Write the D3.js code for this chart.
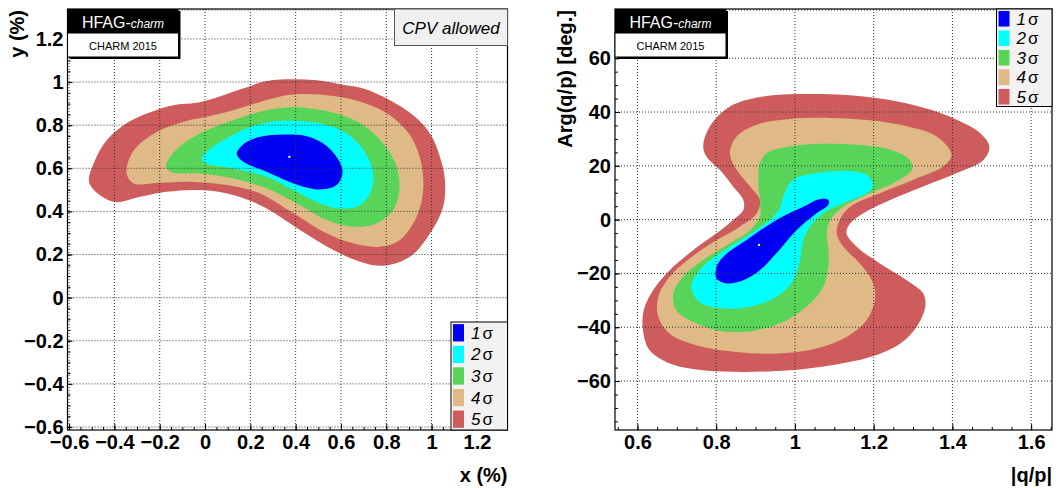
<!DOCTYPE html>
<html>
<head>
<meta charset="utf-8">
<script src="https://cdn.jsdelivr.net/npm/d3@7"></script>
<style>
  body { margin: 0; background: #fff; }
  svg { display: block; font-family: "Liberation Sans", Arial, Helvetica, sans-serif; }
  .tick text { font-weight: bold; font-size: 20px; fill: #000; }
  .domain { display: none; }
</style>
</head>
<body>
<svg width="1063" height="488"></svg>
<script>
// confidence regions, outermost last
var sigmaLabels = ['1', '2', '3', '4', '5'];

// x (%), y (%)
var xy1 = [[0.14,0.666],[0.169,0.63],[0.272,0.584],[0.39,0.53],[0.507,0.502],[0.581,0.522],[0.607,0.584],
  [0.581,0.653],[0.522,0.715],[0.449,0.749],[0.346,0.757],[0.243,0.746],[0.169,0.712]];
var xy2 = [[-0.015,0.646],[0.007,0.622],[0.125,0.599],[0.272,0.561],[0.39,0.499],[0.507,0.437],[0.596,0.414],
  [0.684,0.429],[0.735,0.499],[0.74,0.592],[0.699,0.684],[0.625,0.761],[0.522,0.805],[0.404,0.82],
  [0.287,0.815],[0.184,0.785],[0.081,0.73],[0.007,0.676]];
var xy3 = [[-0.172,0.615],[-0.154,0.584],[-0.022,0.576],[0.125,0.553],[0.272,0.507],[0.419,0.429],[0.537,0.36],
  [0.654,0.329],[0.757,0.344],[0.831,0.406],[0.857,0.499],[0.846,0.607],[0.787,0.715],[0.699,0.8],
  [0.581,0.854],[0.463,0.877],[0.36,0.882],[0.243,0.862],[0.125,0.823],[0.007,0.777],[-0.096,0.715],[-0.154,0.653]];
var xy4 = [[-0.346,0.576],[-0.316,0.53],[-0.199,0.533],[-0.051,0.537],[0.096,0.522],[0.243,0.483],[0.39,0.391],
  [0.522,0.306],[0.654,0.252],[0.772,0.236],[0.86,0.267],[0.934,0.375],[0.963,0.499],[0.951,0.638],
  [0.904,0.754],[0.816,0.846],[0.713,0.9],[0.596,0.931],[0.478,0.944],[0.36,0.939],[0.243,0.908],
  [0.125,0.869],[0.007,0.839],[-0.081,0.82],[-0.199,0.777],[-0.287,0.715],[-0.331,0.653]];
var xy5 = [[-0.51,0.53],[-0.404,0.445],[-0.287,0.468],[-0.169,0.491],[-0.022,0.499],[0.125,0.476],[0.272,0.414],
  [0.419,0.314],[0.566,0.221],[0.684,0.167],[0.787,0.148],[0.904,0.19],[0.993,0.298],[1.051,0.422],
  [1.059,0.545],[1.037,0.653],[0.993,0.761],[0.919,0.846],[0.816,0.916],[0.699,0.97],[0.596,0.99],
  [0.493,1.008],[0.39,1.013],[0.272,1.005],[0.154,0.965],[0.037,0.924],[-0.037,0.904],[-0.14,0.893],
  [-0.257,0.854],[-0.36,0.8],[-0.434,0.73],[-0.485,0.638]];
var xyBest = [0.372, 0.653];

// |q/p|, Arg(q/p) in degrees
var qp1 = [[0.801,-17.5],[0.818,-13.8],[0.877,-7.6],[0.953,-0.1],[1.021,4.8],[1.064,7.7],[1.085,7.3],[1.085,5.5],
  [1.055,2.4],[1.004,-3.9],[0.953,-12.5],[0.911,-18.8],[0.869,-22.5],[0.826,-23.7],[0.801,-21.9]];
var qp2 = [[0.97,8.6],[0.996,14.8],[1.064,17.5],[1.14,18.1],[1.182,16.6],[1.199,12.9],[1.182,9.8],[1.123,6.1],
  [1.072,2.4],[1.038,-2.6],[1.021,-7.6],[1.013,-15.0],[0.996,-22.5],[0.953,-28.7],[0.886,-32.4],
  [0.818,-33.0],[0.758,-30.6],[0.737,-25.0],[0.758,-18.8],[0.809,-12.5],[0.877,-6.3],[0.936,-0.1],[0.962,4.2]];
var qp3 = [[0.911,21.0],[0.928,24.7],[0.987,27.2],[1.072,28.2],[1.157,27.8],[1.242,26.0],[1.292,22.2],[1.297,18.5],
  [1.258,14.2],[1.191,9.8],[1.123,4.8],[1.089,-0.1],[1.081,-5.1],[1.085,-11.3],[1.085,-17.5],[1.072,-25.0],
  [1.038,-31.2],[0.979,-37.4],[0.903,-41.1],[0.826,-41.7],[0.75,-38.6],[0.699,-33.7],[0.691,-27.5],
  [0.716,-21.2],[0.767,-15.0],[0.835,-8.8],[0.886,-3.9],[0.911,1.1],[0.911,7.3],[0.907,13.5]];
var qp4 = [[0.835,24.7],[0.852,30.9],[0.903,35.3],[0.987,37.4],[1.089,37.8],[1.191,36.9],[1.284,34.7],[1.36,30.9],
  [1.398,24.1],[1.377,19.8],[1.301,14.8],[1.216,9.8],[1.14,4.8],[1.114,-0.1],[1.106,-5.1],[1.123,-10.1],
  [1.165,-16.3],[1.199,-23.7],[1.203,-29.9],[1.182,-37.4],[1.131,-43.6],[1.055,-47.9],[0.953,-49.8],
  [0.852,-49.2],[0.75,-46.7],[0.682,-42.4],[0.653,-36.1],[0.653,-28.7],[0.682,-21.2],[0.733,-14.4],
  [0.801,-7.6],[0.86,-2.6],[0.903,2.4],[0.911,7.3],[0.886,12.3],[0.852,18.5]];
var qp5 = [[0.767,27.2],[0.784,34.7],[0.835,42.1],[0.919,45.8],[1.064,46.7],[1.174,45.8],[1.258,44.0],[1.343,40.9],
  [1.411,37.1],[1.47,32.2],[1.494,27.2],[1.479,22.2],[1.411,17.3],[1.326,12.3],[1.242,7.3],[1.174,2.4],
  [1.14,-1.4],[1.131,-5.1],[1.157,-10.1],[1.216,-16.3],[1.284,-22.5],[1.326,-27.5],[1.331,-32.4],
  [1.309,-39.9],[1.267,-46.1],[1.191,-51.1],[1.089,-54.2],[0.987,-56.0],[0.869,-56.6],[0.767,-56.0],
  [0.682,-53.5],[0.631,-48.6],[0.614,-41.1],[0.616,-33.7],[0.64,-26.2],[0.682,-18.8],[0.742,-11.3],
  [0.801,-5.1],[0.843,-0.1],[0.869,3.6],[0.869,7.3],[0.843,12.3],[0.809,18.5],[0.775,23.5]];
var qpBest = [0.909, -9.4];

var xyTicksX = [-0.6, -0.4, -0.2, 0, 0.2, 0.4, 0.6, 0.8, 1, 1.2];
var xyTicksY = [-0.6, -0.4, -0.2, 0, 0.2, 0.4, 0.6, 0.8, 1, 1.2];
var qpTicksX = [0.6, 0.8, 1, 1.2, 1.4, 1.6];
var qpTicksY = [-60, -40, -20, 0, 20, 40, 60];

var colors = ['#0000f2', '#00ffff', '#58d558', '#dfb986', '#cf5c5c'];

var svg = d3.select('svg');

function fmt(d) {
  return d3.format('~g')(d).replace('-', '\u2212');
}

function drawPanel(p) {
  var x = d3.scaleLinear().domain(p.xDomain).range([p.left, p.right]);
  var y = d3.scaleLinear().domain(p.yDomain).range([p.bottom, p.top]);
  var g = svg.append('g');

  var line = d3.line()
    .x(function(d) { return x(d[0]); })
    .y(function(d) { return y(d[1]); })
    .curve(d3.curveCatmullRomClosed.alpha(0.5));

  // outermost first so inner ones sit on top
  for (var i = p.contours.length - 1; i >= 0; i--) {
    g.append('path')
      .attr('d', line(p.contours[i]))
      .attr('fill', colors[i]);
  }

  g.append('rect')
    .attr('x', x(p.best[0]) - 1).attr('y', y(p.best[1]) - 1)
    .attr('width', 2).attr('height', 2)
    .attr('fill', '#ffff66');

  // dotted grid over the regions
  g.selectAll('.gx').data(p.ticksX).enter().append('line')
    .attr('x1', function(d) { return x(d); }).attr('x2', function(d) { return x(d); })
    .attr('y1', p.top).attr('y2', p.bottom)
    .attr('stroke', '#333').attr('stroke-width', 1).attr('stroke-dasharray', '1,2');
  g.selectAll('.gy').data(p.ticksY).enter().append('line')
    .attr('y1', function(d) { return y(d); }).attr('y2', function(d) { return y(d); })
    .attr('x1', p.left).attr('x2', p.right)
    .attr('stroke', '#333').attr('stroke-width', 1).attr('stroke-dasharray', '1,2');
  g.append('line')
    .attr('x1', p.left).attr('x2', p.right).attr('y1', p.top + 1).attr('y2', p.top + 1)
    .attr('stroke', '#333').attr('stroke-dasharray', '1,2');

  // axes, ticks inside
  g.append('g')
    .attr('transform', 'translate(0,' + p.bottom + ')')
    .call(d3.axisBottom(x).tickValues(d3.range(p.minorX[0], p.minorX[1] + 1e-9, p.minorX[2]))
      .tickSize(-3).tickFormat(''));
  g.append('g')
    .attr('transform', 'translate(0,' + p.bottom + ')')
    .call(d3.axisBottom(x).tickValues(p.ticksX).tickSize(-6).tickPadding(5).tickFormat(fmt));
  g.append('g')
    .attr('transform', 'translate(' + p.left + ',0)')
    .call(d3.axisLeft(y).tickValues(d3.range(p.minorY[0], p.minorY[1] + 1e-9, p.minorY[2]))
      .tickSize(-3).tickFormat(''));
  g.append('g')
    .attr('transform', 'translate(' + p.left + ',0)')
    .call(d3.axisLeft(y).tickValues(p.ticksY).tickSize(-5).tickPadding(4).tickFormat(fmt));

  g.append('rect')
    .attr('x', p.left).attr('y', p.top)
    .attr('width', p.right - p.left).attr('height', p.bottom - p.top)
    .attr('fill', 'none').attr('stroke', '#000').attr('stroke-width', 1.2);

  // axis titles
  g.append('text')
    .attr('x', p.right).attr('y', 482)
    .attr('text-anchor', 'end')
    .style('font-weight', 'bold').style('font-size', '20px')
    .text(p.xTitle);
  g.append('text')
    .attr('transform', 'translate(' + p.yTitleX + ',' + (p.top + 1) + ') rotate(-90)')
    .attr('text-anchor', 'end')
    .style('font-weight', 'bold').style('font-size', '20px')
    .text(p.yTitle);

  // HFAG label
  var lx = p.left, lw = 111;
  g.append('rect').attr('x', lx + 2).attr('y', p.top + 2).attr('width', lw).attr('height', 48).attr('fill', '#000');
  g.append('rect').attr('x', lx).attr('y', p.top).attr('width', lw).attr('height', 24).attr('fill', '#000');
  g.append('rect').attr('x', lx).attr('y', p.top + 24).attr('width', lw).attr('height', 24)
    .attr('fill', '#fff').attr('stroke', '#000').attr('stroke-width', 1);
  var t = g.append('text').attr('x', lx + lw / 2).attr('y', p.top + 19)
    .attr('text-anchor', 'middle').attr('fill', '#fff').style('font-size', '16px');
  t.append('tspan').text('HFAG-');
  t.append('tspan').style('font-style', 'italic').style('font-size', '12px').text('charm');
  g.append('text').attr('x', lx + lw / 2).attr('y', p.top + 41)
    .attr('text-anchor', 'middle').style('font-size', '11px').text('CHARM 2015');

  // legend
  var L = p.legend;
  g.append('rect').attr('x', L.x).attr('y', L.y).attr('width', L.w).attr('height', L.h)
    .attr('fill', '#f2f2f2').attr('stroke', '#000').attr('stroke-width', 1);
  var step = L.h / sigmaLabels.length;
  sigmaLabels.forEach(function(s, i) {
    var cy = L.y + step * (i + 0.5);
    g.append('rect').attr('x', L.x + 2).attr('y', cy - step * 0.4)
      .attr('width', 11).attr('height', step * 0.8).attr('fill', colors[i]);
    var tt = g.append('text').attr('x', L.x + 20).attr('y', cy + 6)
      .style('font-size', '17px');
    tt.append('tspan').style('font-style', 'italic').text(s);
    tt.append('tspan').attr('dx', 2).text('\u03c3');
  });
}

drawPanel({
  xDomain: [-0.607, 1.335], yDomain: [-0.614, 1.339],
  left: 67.5, right: 507.5, top: 9, bottom: 430,
  contours: [xy1, xy2, xy3, xy4, xy5], best: xyBest,
  ticksX: xyTicksX, ticksY: xyTicksY,
  minorX: [-0.6, 1.3, 0.05], minorY: [-0.6, 1.3, 0.05],
  xTitle: 'x (%)', yTitle: 'y (%)', yTitleX: 24,
  legend: { x: 451, y: 322, w: 56.5, h: 108 }
});

drawPanel({
  xDomain: [0.543, 1.653], yDomain: [-78.2, 78.3],
  left: 615, right: 1052, top: 9, bottom: 430,
  contours: [qp1, qp2, qp3, qp4, qp5], best: qpBest,
  ticksX: qpTicksX, ticksY: qpTicksY,
  minorX: [0.55, 1.65, 0.05], minorY: [-75, 75, 5],
  xTitle: '|q/p|', yTitle: 'Arg(q/p) [deg.]', yTitleX: 572,
  legend: { x: 996.5, y: 9, w: 55.5, h: 97.5 }
});

// CPV allowed box on the left panel
svg.append('rect').attr('x', 394.5).attr('y', 9).attr('width', 113).attr('height', 36.5)
  .attr('fill', '#f0f0f0').attr('stroke', '#555').attr('stroke-width', 1);
svg.append('text').attr('x', 451).attr('y', 34).attr('text-anchor', 'middle')
  .style('font-size', '17px').style('font-style', 'italic').text('CPV allowed');
</script>
</body>
</html>
